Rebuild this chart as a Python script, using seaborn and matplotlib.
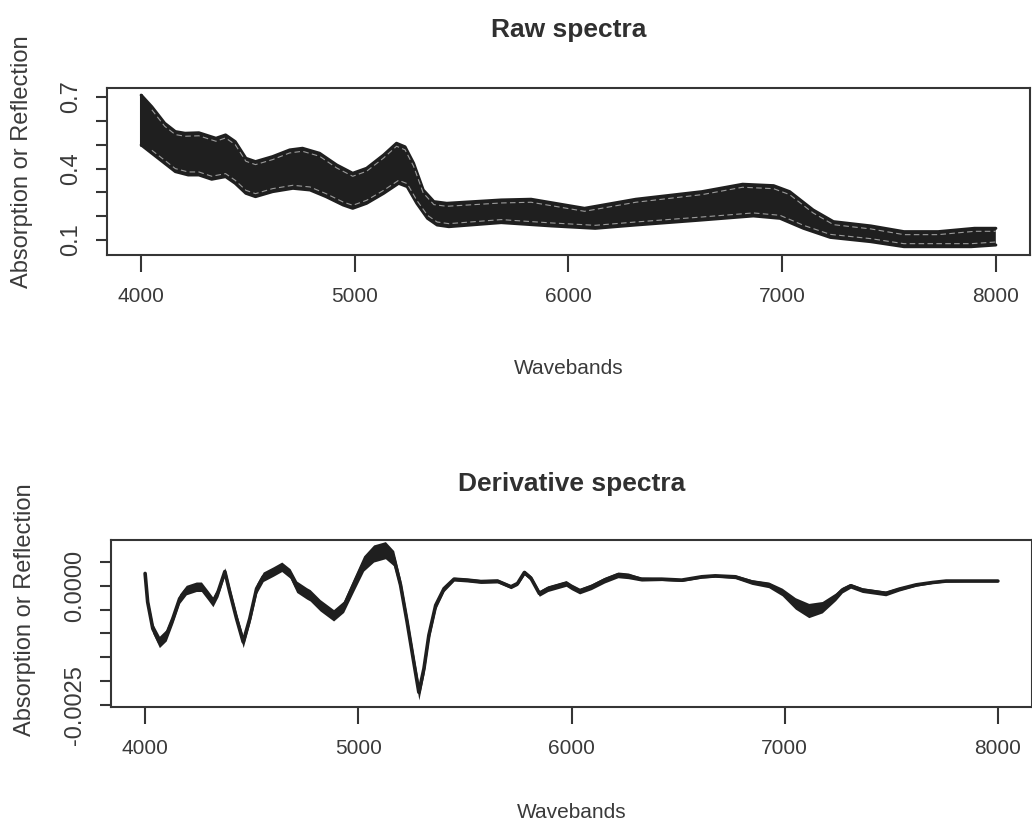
import numpy as np
import pandas as pd
import matplotlib
matplotlib.use("Agg")
import matplotlib.pyplot as plt
from matplotlib import font_manager
from matplotlib import transforms as mtransforms
from matplotlib.ticker import FixedLocator, FixedFormatter
import seaborn as sns

# ---------------- data ----------------
raw_upper_wb = [4000, 4050, 4110, 4160, 4205, 4270, 4350, 4395, 4440, 4490, 4535, 4615,
                4695, 4755, 4835, 4915, 4990, 5055, 5135, 5195, 5235, 5275, 5320, 5370,
                5430, 5685, 5825, 6075, 6315, 6625, 6815, 6960, 7035, 7145, 7240, 7415,
                7570, 7730, 7900, 8000]
raw_upper = [0.708, 0.659, 0.590, 0.555, 0.548, 0.550, 0.527, 0.541, 0.513, 0.443, 0.429, 0.450,
             0.478, 0.485, 0.464, 0.415, 0.380, 0.401, 0.457, 0.506, 0.491, 0.422, 0.310, 0.261,
             0.254, 0.268, 0.271, 0.233, 0.271, 0.303, 0.334, 0.328, 0.303, 0.226, 0.177, 0.159,
             0.135, 0.135, 0.149, 0.149]

raw_lower_wb = [4000, 4050, 4110, 4160, 4220, 4270, 4330, 4395, 4440, 4490, 4535, 4615,
                4710, 4790, 4865, 4945, 4990, 5055, 5135, 5205, 5245, 5290, 5340, 5385,
                5440, 5685, 5920, 6125, 6315, 6625, 6865, 6990, 7100, 7225, 7415, 7570,
                7885, 8000]
raw_lower = [0.499, 0.464, 0.422, 0.387, 0.373, 0.373, 0.355, 0.366, 0.338, 0.296, 0.282, 0.303,
             0.317, 0.310, 0.282, 0.247, 0.233, 0.254, 0.296, 0.338, 0.324, 0.254, 0.191, 0.163,
             0.156, 0.173, 0.159, 0.149, 0.163, 0.184, 0.201, 0.191, 0.149, 0.111, 0.093, 0.072,
             0.072, 0.079]

deriv_wb = [4000, 4012, 4036, 4067, 4099, 4130, 4162, 4193, 4240, 4264, 4295, 4318, 4342,
            4374, 4397, 4429, 4460, 4491, 4523, 4554, 4601, 4641, 4680, 4711, 4758, 4774,
            4821, 4884, 4931, 4978, 5025, 5072, 5127, 5166, 5198, 5229, 5260, 5284, 5308,
            5331, 5363, 5402, 5449, 5512, 5575, 5653, 5716, 5747, 5779, 5810, 5849, 5889,
            5936, 5975, 5999, 6038, 6093, 6155, 6218, 6266, 6328, 6423, 6517, 6611, 6674,
            6768, 6846, 6925, 6988, 7050, 7113, 7176, 7239, 7270, 7309, 7364, 7427, 7474,
            7537, 7616, 7694, 7757, 7851, 8000]
deriv_mid = [0.00026, -0.00034, -0.00090, -0.00118, -0.00104, -0.00069, -0.00027, -0.00009,
             -0.00002, -0.00002, -0.00020, -0.00034, -0.00013, 0.00030, -0.00013, -0.00069,
             -0.00118, -0.00069, -0.00006, 0.00019, 0.00030, 0.00040, 0.00026, -0.00002,
             -0.00016, -0.00020, -0.00041, -0.00062, -0.00044, 0.00002, 0.00047, 0.00068,
             0.00075, 0.00058, 0.00002, -0.00076, -0.00160, -0.00224, -0.00174, -0.00104,
             -0.00041, -0.00006, 0.00014, 0.00012, 0.00009, 0.00010, -0.00002, 0.00005,
             0.00028, 0.00016, -0.00016, -0.00006, 0.00000, 0.00005, -0.00002, -0.00011,
             -0.00002, 0.00012, 0.00023, 0.00021, 0.00014, 0.00014, 0.00012, 0.00019,
             0.00021, 0.00019, 0.00008, 0.00002, -0.00013, -0.00037, -0.00052, -0.00045,
             -0.00023, -0.00009, 0.00000, -0.00009, -0.00013, -0.00016, -0.00007, 0.00002,
             0.00007, 0.00010, 0.00010, 0.00010]
deriv_spread = [0.00003, 0.00008, 0.00010, 0.00012, 0.00012, 0.00010, 0.00010, 0.00010,
                0.00010, 0.00010, 0.00010, 0.00010, 0.00010, 0.00008, 0.00010, 0.00010,
                0.00012, 0.00010, 0.00010, 0.00010, 0.00010, 0.00010, 0.00010, 0.00012,
                0.00012, 0.00012, 0.00012, 0.00012, 0.00012, 0.00014, 0.00016, 0.00018,
                0.00018, 0.00016, 0.00012, 0.00012, 0.00014, 0.00016, 0.00012, 0.00010,
                0.00008, 0.00006, 0.00004, 0.00004, 0.00004, 0.00004, 0.00004, 0.00004,
                0.00005, 0.00005, 0.00006, 0.00006, 0.00006, 0.00006, 0.00006, 0.00006,
                0.00006, 0.00006, 0.00006, 0.00006, 0.00004, 0.00003, 0.00003, 0.00003,
                0.00003, 0.00004, 0.00005, 0.00006, 0.00008, 0.00012, 0.00015, 0.00012,
                0.00008, 0.00006, 0.00005, 0.00005, 0.00005, 0.00005, 0.00004, 0.00003,
                0.00002, 0.00002, 0.00001, 0.00001]

x_ticks = [4000, 5000, 6000, 7000, 8000]
raw_yticks = [0.1, 0.2, 0.3, 0.4, 0.5, 0.6, 0.7]
raw_ylabels = ["0.1", "", "", "0.4", "", "", "0.7"]
der_yticks = [0.0005, 0.0, -0.0005, -0.0010, -0.0015, -0.0020, -0.0025]
der_ylabels = ["", "0.0000", "", "", "", "", "-0.0025"]

titles = ["Raw spectra", "Derivative spectra"]
xlabel_text = "Wavebands"
ylabel_text = "Absorption or Reflection"

# ---------------- style ----------------
sns.set_theme(style="white")
names = {f.name for f in font_manager.fontManager.ttflist}
base_font = "Liberation Sans" if "Liberation Sans" in names else "DejaVu Sans"
plt.rcParams["font.family"] = [base_font, "DejaVu Sans"]

TXT = "#3a3a3a"
BAND = "#1f1f1f"
AXC = "#353535"

fig = plt.figure(figsize=(10.32, 8.26), dpi=100)
fig.patch.set_facecolor("white")

ax1 = fig.add_axes([107 / 1032, 1 - 255 / 826, (1030 - 107) / 1032, 167 / 826])
ax2 = fig.add_axes([111 / 1032, 1 - 707 / 826, (1032 - 111) / 1032, 167 / 826])

# ---- raw spectra band ----
poly_x = list(raw_upper_wb) + list(raw_lower_wb[::-1])
poly_y = list(raw_upper) + list(raw_lower[::-1])
ax1.fill(poly_x, poly_y, color=BAND, lw=0, zorder=2)
for xs, ys in ((raw_upper_wb, raw_upper), (raw_lower_wb, raw_lower)):
    sns.lineplot(x=xs, y=ys, ax=ax1, color=BAND, lw=2.2, sort=False, zorder=3)
ax1.plot([raw_upper_wb[0], raw_lower_wb[0]], [raw_upper[0], raw_lower[0]], color=BAND, lw=2.2, zorder=3)
# faint light streaks just inside the band edges (overlapping spectra)
tr_up = mtransforms.offset_copy(ax1.transData, fig=fig, x=0, y=-3, units="dots")
tr_lo = mtransforms.offset_copy(ax1.transData, fig=fig, x=0, y=3, units="dots")
ax1.plot(raw_upper_wb[1:], raw_upper[1:], color="#9a9a9a", lw=0.8, ls=(0, (5, 3)),
         transform=tr_up, zorder=4)
ax1.plot(raw_lower_wb[1:], raw_lower[1:], color="#9a9a9a", lw=0.8, ls=(0, (5, 3)),
         transform=tr_lo, zorder=4)

# ---- derivative band ----
dmid = np.array(deriv_mid)
dsp = np.array(deriv_spread)
ax2.fill_between(deriv_wb, dmid - dsp, dmid + dsp, color=BAND, lw=0, zorder=2)
sns.lineplot(x=deriv_wb, y=deriv_mid, ax=ax2, color=BAND, lw=2.6, sort=False, zorder=3)

# ---- axes formatting ----
panels = [
    (ax1, (0.037, 0.738), raw_yticks, raw_ylabels, titles[0], -0.677, 1.345, -0.0924, 0.557),
    (ax2, (-0.00255, 0.000964), der_yticks, der_ylabels, titles[1], -0.629, 1.337, -0.0936, 0.58),
]
for ax, ylim, yt, yl, title, xl_y, t_y, yl_x, yl_y in panels:
    ax.set_facecolor("white")
    ax.set_xlim(3840, 8160)
    ax.set_ylim(*ylim)
    ax.xaxis.set_major_locator(FixedLocator(x_ticks))
    ax.xaxis.set_major_formatter(FixedFormatter([str(v) for v in x_ticks]))
    ax.yaxis.set_major_locator(FixedLocator(yt))
    ax.yaxis.set_major_formatter(FixedFormatter(yl))
    for s in ax.spines.values():
        s.set_visible(True)
        s.set_color(AXC)
        s.set_linewidth(1.5)
    ax.tick_params(axis="x", direction="out", length=12, width=1.5, color=AXC,
                   pad=11, labelsize=15, labelcolor=TXT, bottom=True)
    ax.tick_params(axis="y", direction="out", length=7.7, width=1.5, color=AXC,
                   pad=10.5, labelsize=17, labelcolor=TXT, left=True, labelrotation=90)
    for lab in ax.get_yticklabels():
        lab.set_va("center")
    ax.set_xlabel(xlabel_text, fontsize=15, color=TXT)
    ax.xaxis.label.set_va("center")
    ax.xaxis.set_label_coords(0.5, xl_y)
    ax.set_ylabel(ylabel_text, fontsize=17, color=TXT)
    ax.yaxis.label.set_va("center")
    ax.yaxis.set_label_coords(yl_x, yl_y)
    ax.text(0.5, t_y, title, transform=ax.transAxes, ha="center", va="center",
            fontsize=19, fontweight="bold", color="#303030")
    ax.grid(False)

fig.savefig("out.png", dpi=100, facecolor="white")
